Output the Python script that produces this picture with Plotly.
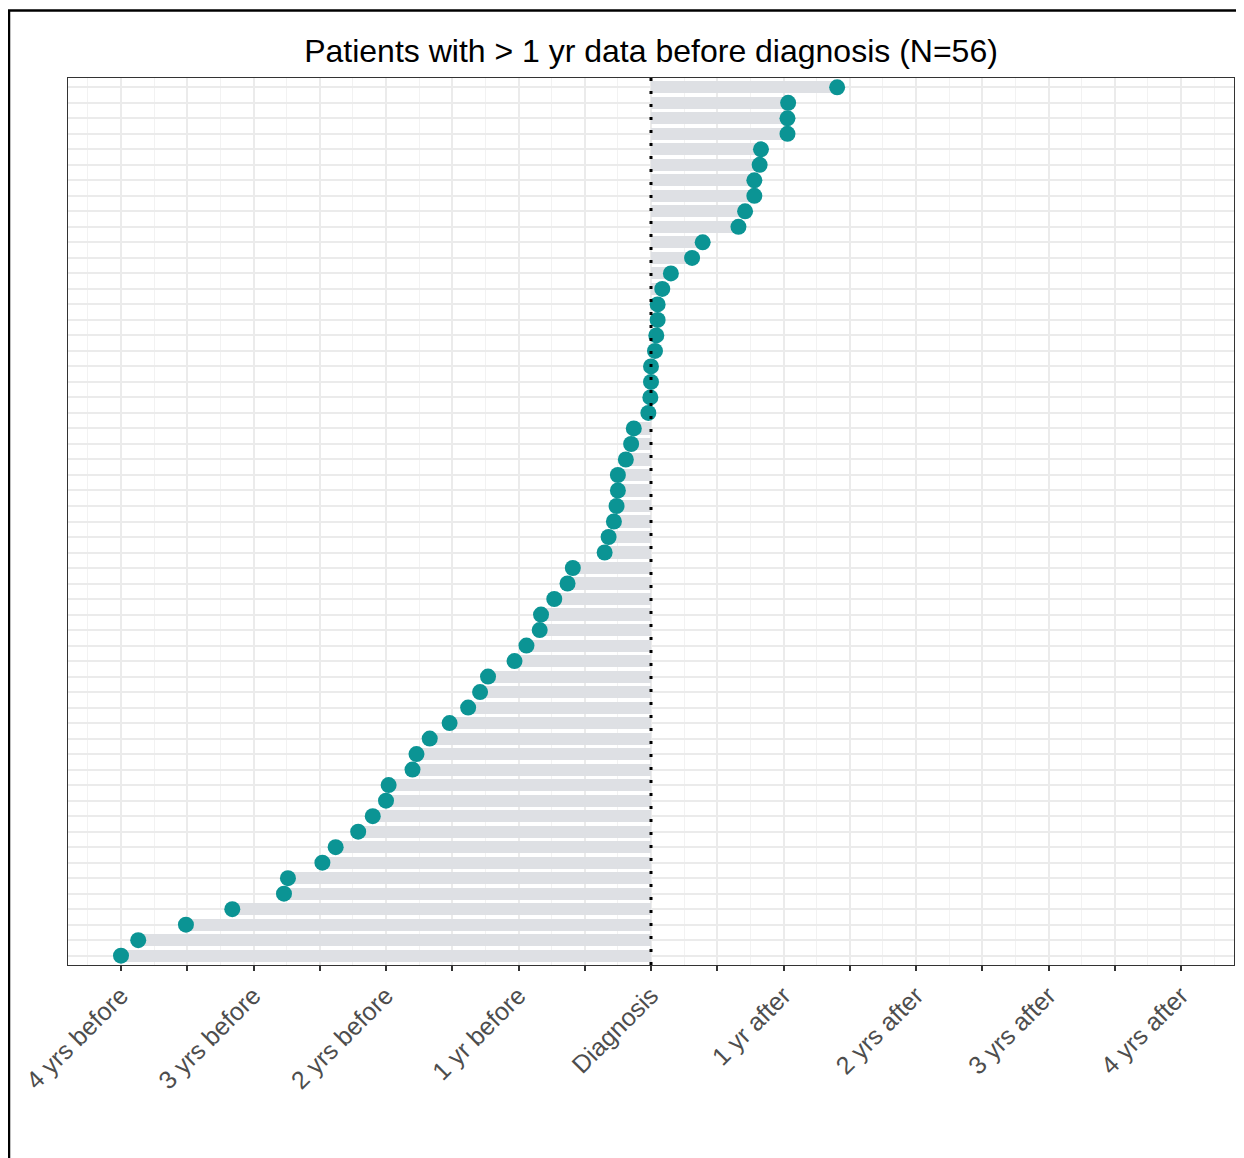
import plotly.graph_objects as go

# ─── data: years relative to diagnosis, one row per patient, top to bottom ───
years_from_dx = [
    1.405, 1.035, 1.03, 1.03, 0.83, 0.82, 0.78, 0.78, 0.71, 0.66,
    0.39, 0.31, 0.15, 0.085, 0.05, 0.05, 0.04, 0.03, 0.0, 0.0,
    -0.005, -0.02, -0.13, -0.15, -0.19, -0.25, -0.25, -0.26, -0.28, -0.32,
    -0.35, -0.59, -0.63, -0.73, -0.83, -0.84, -0.94, -1.03, -1.23, -1.29,
    -1.38, -1.52, -1.67, -1.77, -1.80, -1.98, -2.0, -2.10, -2.21, -2.38,
    -2.48, -2.74, -2.77, -3.16, -3.51, -3.87, -4.0,
]
patient_ids = [f"pt{n}" for n in range(1, len(years_from_dx) + 1)]

x_tickvals = [-4, -3.5, -3, -2.5, -2, -1.5, -1, -0.5, 0, 0.5, 1, 1.5, 2, 2.5, 3, 3.5, 4]
x_ticktext = ["4 yrs before", "", "3 yrs before", "", "2 yrs before", "", "1 yr before", "",
              "Diagnosis", "", "1 yr after", "", "2 yrs after", "", "3 yrs after", "", "4 yrs after"]

C = {
    'bar':   '#dee0e4',
    'dot':   '#0b9494',
    'grid':  '#ebebeb',
    'minor': '#f2f2f2',
    'axis':  '#333333',
    'tick':  '#4d4d4d',
}
FONT = "Liberation Sans, Arial, sans-serif"

fig = go.Figure()
fig.add_trace(go.Bar(
    x=years_from_dx, y=patient_ids, base=0, orientation='h',
    width=0.78, marker=dict(color=C['bar'], line=dict(width=0)),
    showlegend=False, hoverinfo='skip',
))
fig.add_trace(go.Scatter(
    x=years_from_dx, y=patient_ids, mode='markers',
    marker=dict(color=C['dot'], size=16, line=dict(width=0)),
    showlegend=False,
))

fig.add_vline(x=0, layer='above',
              line=dict(color='black', width=3, dash='3px,10px'))

# outer frame (top + left edge of the screenshot)
fig.add_shape(type='line', xref='paper', yref='paper',
              x0=-0.0506, x1=-0.0506, y0=-0.23, y1=1.0761,
              line=dict(color='black', width=2.5))
fig.add_shape(type='line', xref='paper', yref='paper',
              x0=-0.052, x1=1.02, y0=1.0761, y1=1.0761,
              line=dict(color='black', width=2.5))

# page body has an 8px margin, so the figure is 8px smaller than the window
fig.update_layout(
    width=1236, height=1150, autosize=False,
    margin=dict(l=60, r=10, t=70, b=193),
    paper_bgcolor='white', plot_bgcolor='white',
    bargap=0,
    font=dict(family=FONT, color=C['tick']),
    title=dict(
        text="Patients with > 1 yr data before diagnosis (N=56)",
        x=0.5, xref='paper', xanchor='center',
        y=1 - 43 / 1150, yref='container', yanchor='middle',
        font=dict(family=FONT, size=32, color='black'),
    ),
    xaxis=dict(
        range=[-4.4, 4.4],
        tickmode='array', tickvals=x_tickvals, ticktext=x_ticktext,
        tickangle=-45, tickfont=dict(size=25, color=C['tick']),
        ticks='outside', ticklen=5, tickwidth=1.5, tickcolor=C['axis'],
        showgrid=True, gridcolor=C['grid'], gridwidth=1.6,
        minor=dict(dtick=0.25, tick0=0, showgrid=True,
                   gridcolor=C['minor'], gridwidth=1.2, ticks=''),
        zeroline=False,
        showline=True, mirror=True, linecolor=C['axis'], linewidth=1,
    ),
    yaxis=dict(
        type='category', categoryorder='array', categoryarray=patient_ids,
        range=[len(patient_ids) - 0.4, -0.6],
        showticklabels=False, ticks='',
        showgrid=True, gridcolor=C['grid'], gridwidth=1.5,
        zeroline=False,
        showline=True, mirror=True, linecolor=C['axis'], linewidth=1,
    ),
)

fig.write_html("out.html")
